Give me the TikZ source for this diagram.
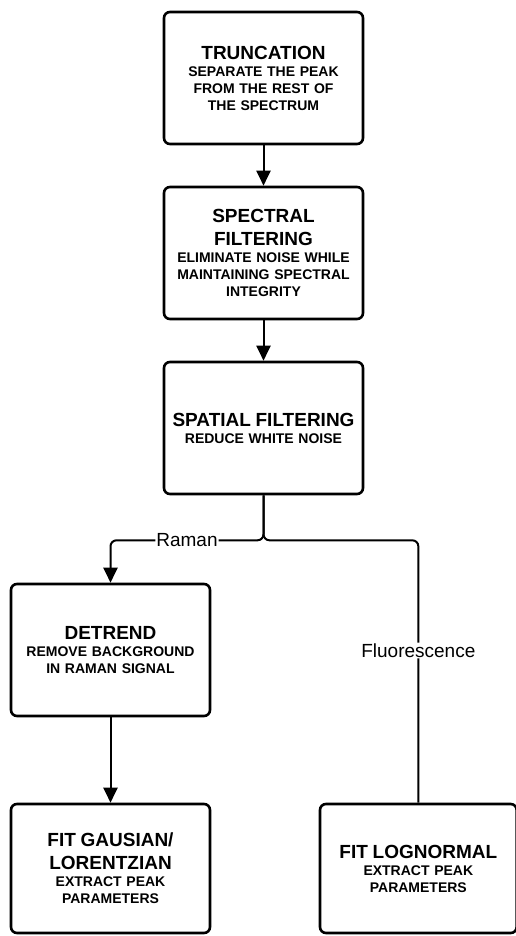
\documentclass[tikz,border=0pt]{standalone}
\usepackage{fontspec}
\setmainfont{Liberation Sans}
\usetikzlibrary{arrows.meta,positioning}
\newcommand{\boxhead}[1]{{\fontsize{19}{23}\selectfont #1\par}}
\tikzset{
block/.style={
  rectangle,
  draw,
  line width=2.6pt,
  rounded corners=6pt,
  text width=190pt,
  align=center,
  font=\bfseries\fontsize{14}{17}\selectfont,
  minimum width=199pt,
  minimum height=132pt},
line/.style={draw, line width=2pt, -{Triangle[width=14pt,length=15pt]}},
edge/.style={draw, line width=2pt, rounded corners=6pt},
branch/.style={fill=white, inner sep=1pt, font=\fontsize{19}{22}\selectfont}
}
\begin{document}
\begin{tikzpicture}
    \useasboundingbox (0,0) rectangle (515pt,-936pt);
    \node [block] (trunc) at (263.5pt,-78pt)
      {\boxhead{TRUNCATION}SEPARATE THE PEAK\\FROM THE REST OF\\THE SPECTRUM};
    \node [block, below=40.4pt of trunc] (specfilt)
      {\boxhead{SPECTRAL\\FILTERING}ELIMINATE NOISE WHILE\\MAINTAINING SPECTRAL\\INTEGRITY};
    \node [block, below=40.4pt of specfilt] (spatfilt)
      {\boxhead{SPATIAL FILTERING}REDUCE WHITE NOISE};
    \node [block, below=87.4pt of spatfilt, xshift=-153pt] (detrend)
      {\boxhead{DETREND}REMOVE BACKGROUND\\IN RAMAN SIGNAL};
    \node [block, below=85.4pt of detrend, minimum height=129pt] (fitgauss)
      {\boxhead{FIT GAUSIAN/\\LORENTZIAN}EXTRACT PEAK\\PARAMETERS};
    \node [block, right=107.4pt of fitgauss, minimum width=194pt, minimum height=129pt] (fitlogn)
      {\boxhead{FIT LOGNORMAL}EXTRACT PEAK\\PARAMETERS};
    \coordinate [below=45pt of spatfilt] (split);
    \path [line] (trunc) -- (specfilt);
    \path [line] (specfilt) -- (spatfilt);
    \path [edge, line] (spatfilt.south) -- (split) -| node [branch, pos=0.25] (raman) {Raman} (detrend.north);
    \path [edge] (spatfilt.south) -- (split) -| node [branch, pos=0.71] (fluo) {Fluorescence} (fitlogn.north);
    \path [line] (detrend) -- (fitgauss);
\end{tikzpicture}
\end{document}
